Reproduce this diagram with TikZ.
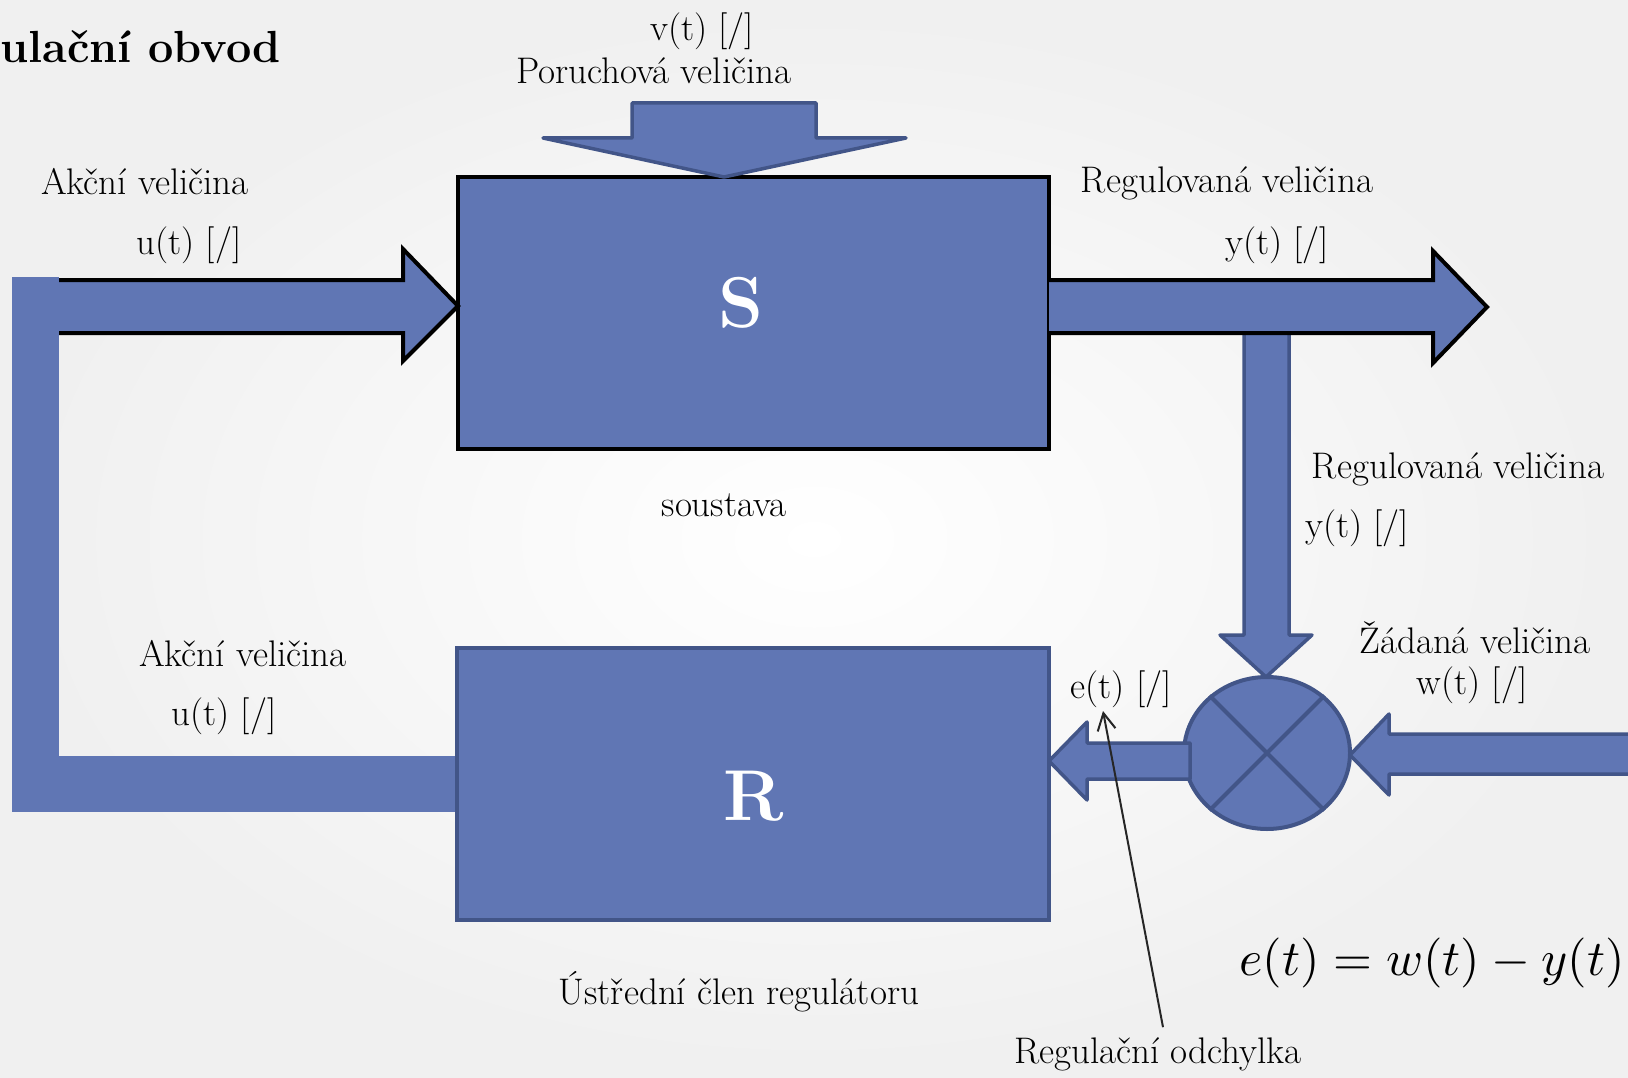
\documentclass[tikz,border=0pt]{standalone}
\usetikzlibrary{shapes.geometric,arrows.meta,calc}
\definecolor{blk}{RGB}{96,118,180}
\definecolor{blkedge}{RGB}{66,85,136}
\tikzset{
  lbl/.style={font=\fontsize{37}{40}\selectfont, inner sep=0pt, anchor=center},
  darkedge/.style={draw=blkedge, line width=3.5pt, line join=round, fill=blk},
  blackline/.style={draw=black, line width=4pt, line join=miter},
  bigletter/.style={font=\fontsize{72}{80}\selectfont\bfseries, text=white, inner sep=0pt},
  pointer/.style={draw=black!85, line width=2pt, -{Straight Barb[length=17pt,width=18pt,line width=2pt]}},
}
\begin{document}
\begin{tikzpicture}[x=1pt,y=-1pt]
\useasboundingbox (0,0) rectangle (1628,1078);
\shade[inner color=white, outer color=black!6] (0,0) rectangle (1628,1078);

% system block S
\node[fill=blk, draw=black, line width=4.5pt, minimum width=591, minimum height=272, inner sep=0pt] (S) at (753.5,313) {};

% disturbance arrow
\draw[darkedge] (632,103) -- (816,103) -- (816,138) -- (906,138) -- (724,177) -- (543,138) -- (632,138) -- cycle;

% input arrow u(t)
\fill[blk] (59,280) -- (403,280) -- (403,249) -- (458,306) -- (403,361) -- (403,333) -- (59,333) -- cycle;
\draw[blackline] (59,280) -- (403,280) -- (403,249) -- (458,306) -- (403,361) -- (403,333) -- (59,333);

% feedback bars
\fill[blk] (12,277) rectangle (59,812);
\fill[blk] (57,756) rectangle (458,812);

% vertical arrow to comparator
\draw[darkedge] (1244,331) -- (1244,635) -- (1220,635) -- (1266,677) -- (1312,635) -- (1289,635) -- (1289,331);

% output arrow y(t)
\fill[blk] (1049,280) -- (1433,280) -- (1433,251) -- (1487,307) -- (1433,363) -- (1433,333) -- (1049,333) -- cycle;
\draw[blackline] (1049,280) -- (1433,280) -- (1433,251) -- (1487,307) -- (1433,363) -- (1433,333) -- (1049,333);

% setpoint arrow w(t)
\draw[darkedge] (1640,734) -- (1389,734) -- (1389,714) -- (1350,755) -- (1389,795) -- (1389,774) -- (1640,774);

% comparator
\node[ellipse, draw=blkedge, fill=blk, line width=4pt, minimum width=166, minimum height=152, inner sep=0pt] (cmp) at (1267,753) {};
\draw[blkedge, line width=4pt] (cmp.45) -- (cmp.225);
\draw[blkedge, line width=4pt] (cmp.135) -- (cmp.315);

% error arrow e(t)
\draw[darkedge] (1190,743) -- (1087,743) -- (1087,722) -- (1049,761) -- (1087,800) -- (1087,779) -- (1190,779) -- cycle;

% controller block R
\node[fill=blk, draw=blkedge, line width=3.5pt, minimum width=592, minimum height=272, inner sep=0pt] (R) at (753,784) {};

% letters
\node[bigletter] (Slbl) at (741,303) {S};
\node[bigletter] (Rlbl) at (754,796) {R};

% title
\node[font=\fontsize{45}{50}\selectfont\bfseries, inner sep=0pt, anchor=west] (title) at (0,47) {ulační obvod};

% labels
\node[lbl] (vt) at (702,31) {v(t) [/]};
\node[lbl] (por) at (654,71) {Poruchová veličina};
\node[lbl] (ak1) at (145,182) {Akční veličina};
\node[lbl] (ut1) at (189,245) {u(t) [/]};
\node[lbl] (rv1) at (1227,183) {Regulovaná veličina};
\node[lbl] (yt1) at (1277,245) {y(t) [/]};
\node[lbl] (sous) at (724,505) {soustava};
\node[lbl] (rv2) at (1458,469) {Regulovaná veličina};
\node[lbl] (yt2) at (1357,528) {y(t) [/]};
\node[lbl] (zad) at (1475,638) {Žádaná veličina};
\node[lbl] (wt) at (1472,685) {w(t) [/]};
\node[lbl] (et) at (1121,689) {e(t) [/]};
\node[lbl] (ak2) at (243,654) {Akční veličina};
\node[lbl] (ut2) at (224,716) {u(t) [/]};
\node[lbl] (ustr) at (739,992) {Ústřední člen regulátoru};
\node[lbl] (odch) at (1158,1054) {Regulační odchylka};
\node[font=\fontsize{10}{12}\selectfont, inner sep=0pt, scale=5] (eq) at (1432,963) {$e(t)=w(t)-y(t)$};

% pointer to e(t)
\coordinate (etip) at (1103,711);
\draw[pointer] ($(odch.north)+(5,-10)$) -- (etip);
\end{tikzpicture}
\end{document}
